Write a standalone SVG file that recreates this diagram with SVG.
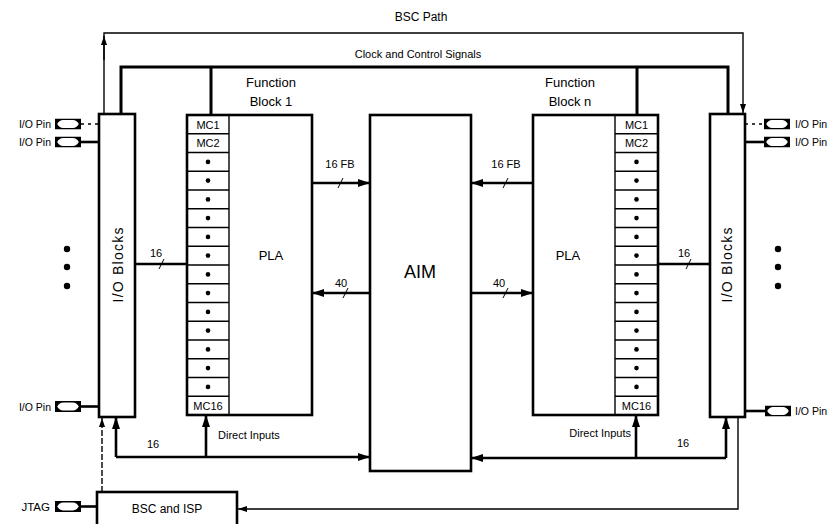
<svg xmlns="http://www.w3.org/2000/svg" width="833" height="524" viewBox="0 0 833 524">
<style>
text{font-family:"Liberation Sans",Arial,sans-serif;fill:#000}
.box{fill:#fff;stroke:#000;stroke-width:2.6}
.cell{fill:none;stroke:#000;stroke-width:1.4}
.thick{fill:none;stroke:#000;stroke-width:3}
.bus{fill:none;stroke:#000;stroke-width:2.6}
.thin{fill:none;stroke:#000;stroke-width:1.4}
.tick{fill:none;stroke:#000;stroke-width:1}
.lbl{font-size:11px}
.mc{font-size:11px;text-anchor:middle}
.pin{font-size:10.5px}
.mid{text-anchor:middle}
</style>
<defs>
<marker id="ah" markerUnits="userSpaceOnUse" markerWidth="12" markerHeight="8" refX="12" refY="4" orient="auto"><path d="M0,0 L12,4 L0,8 Z" fill="#000"/></marker>
<marker id="as" markerUnits="userSpaceOnUse" markerWidth="9" markerHeight="6" refX="9" refY="3" orient="auto"><path d="M0,0 L9,3 L0,6 Z" fill="#000"/></marker>
<symbol id="pinicon" viewBox="0 0 26 11"><rect x="0" y="0" width="26" height="11" fill="#000"/><path d="M2.2,5.5 Q4.5,1.6 8,1.6 L18,1.6 Q21.5,1.6 23.8,5.5 Q21.5,9.4 18,9.4 L8,9.4 Q4.5,9.4 2.2,5.5 Z" fill="#fff"/></symbol>
</defs>

<!-- labels top -->
<text x="421" y="21" class="mid" font-size="12">BSC Path</text>
<text x="418" y="58" class="mid lbl">Clock and Control Signals</text>

<g id="connectors">
  <!-- BSC path -->
  <path class="thin" d="M104,113 L104,33 L743,33 L743,113" marker-end="url(#as)"/>
  <path class="thin" d="M104,60 L104,36" marker-end="url(#as)"/>
  <path class="thin" d="M102,492 L102,418" stroke-dasharray="6,2" marker-end="url(#as)"/>
  <path class="thin" d="M738,417 L738,509 L238,509" marker-end="url(#as)"/>
  <!-- clock and control -->
  <path class="thick" d="M121,113 L121,67 L728,67 L728,113"/>
  <path class="thick" d="M211,67 L211,115"/>
  <path class="thick" d="M637,67 L637,115"/>
  <!-- FB to AIM -->
  <path class="bus" d="M312,183 L370,183" marker-end="url(#ah)"/>
  <path class="bus" d="M370,293 L312,293" marker-end="url(#ah)"/>
  <path class="bus" d="M533,183 L471,183" marker-end="url(#ah)"/>
  <path class="bus" d="M471,293 L533,293" marker-end="url(#ah)"/>
  <line class="tick" x1="338" y1="188" x2="343" y2="178"/>
  <line class="tick" x1="343" y1="298" x2="348" y2="288"/>
  <line class="tick" x1="503" y1="188" x2="508" y2="178"/>
  <line class="tick" x1="503" y1="298" x2="508" y2="288"/>
  <!-- IO block to MC -->
  <path class="bus" d="M136,264 L187,264"/>
  <path class="bus" d="M658,264 L709,264"/>
  <line class="tick" x1="159" y1="269" x2="164" y2="259"/>
  <line class="tick" x1="686" y1="269" x2="691" y2="259"/>
  <!-- bottom buses -->
  <path class="bus" d="M116,457 L370,457" marker-end="url(#ah)"/>
  <path class="bus" d="M116,457 L116,417" marker-end="url(#ah)"/>
  <path class="bus" d="M206,457 L206,415" marker-end="url(#ah)"/>
  <path class="bus" d="M726,458 L471,458" marker-end="url(#ah)"/>
  <path class="bus" d="M726,458 L726,417" marker-end="url(#ah)"/>
  <path class="bus" d="M636,458 L636,415" marker-end="url(#ah)"/>
  <!-- pin lines -->
  <line class="thin" x1="81" y1="124" x2="99" y2="124" stroke-dasharray="3,4"/>
  <line class="bus" x1="81" y1="142" x2="99" y2="142"/>
  <line class="bus" x1="81" y1="406.5" x2="99" y2="406.5"/>
  <line class="bus" x1="81" y1="506.5" x2="97" y2="506.5"/>
  <line class="thin" x1="745" y1="124" x2="764" y2="124" stroke-dasharray="3,4"/>
  <line class="bus" x1="745" y1="142" x2="764" y2="142"/>
  <line class="bus" x1="745" y1="411" x2="765" y2="411"/>
</g>

<text x="340" y="168" class="lbl mid">16 FB</text>
<text x="341" y="287" class="lbl mid">40</text>
<text x="506" y="168" class="lbl mid">16 FB</text>
<text x="499" y="287" class="lbl mid">40</text>
<text x="156" y="257" class="lbl mid">16</text>
<text x="684" y="257" class="lbl mid">16</text>
<text x="153" y="448" class="lbl mid">16</text>
<text x="683" y="447" class="lbl mid">16</text>
<text x="218" y="439" class="lbl">Direct Inputs</text>
<text x="631" y="437" class="lbl" text-anchor="end">Direct Inputs</text>

<g id="io-left">
  <rect class="box" x="99" y="114" width="36" height="303"/>
  <text transform="translate(123,265) rotate(-90)" class="mid" font-size="14" textLength="75">I/O Blocks</text>
</g>
<g id="io-right">
  <rect class="box" x="710" y="114" width="35" height="303"/>
  <text transform="translate(732,265) rotate(-90)" class="mid" font-size="14" textLength="75">I/O Blocks</text>
</g>

<g id="dots-left"><circle cx="67" cy="249" r="3.2"/><circle cx="67" cy="267" r="3.2"/><circle cx="67" cy="286" r="3.2"/></g>
<g id="dots-right"><circle cx="778" cy="249" r="3.2"/><circle cx="778" cy="267" r="3.2"/><circle cx="778" cy="286" r="3.2"/></g>

<g id="fb1">
  <text x="271" y="87" class="mid" font-size="13">Function</text>
  <text x="271" y="106" class="mid" font-size="13">Block 1</text>
  <rect class="box" x="187" y="115" width="125" height="300"/>
  <line class="cell" x1="229" y1="115" x2="229" y2="415" stroke-width="2"/>
  <g class="cell">
    <line x1="187" y1="133.75" x2="229" y2="133.75"/><line x1="187" y1="152.5" x2="229" y2="152.5"/>
    <line x1="187" y1="171.25" x2="229" y2="171.25"/><line x1="187" y1="190" x2="229" y2="190"/>
    <line x1="187" y1="208.75" x2="229" y2="208.75"/><line x1="187" y1="227.5" x2="229" y2="227.5"/>
    <line x1="187" y1="246.25" x2="229" y2="246.25"/><line x1="187" y1="265" x2="229" y2="265"/>
    <line x1="187" y1="283.75" x2="229" y2="283.75"/><line x1="187" y1="302.5" x2="229" y2="302.5"/>
    <line x1="187" y1="321.25" x2="229" y2="321.25"/><line x1="187" y1="340" x2="229" y2="340"/>
    <line x1="187" y1="358.75" x2="229" y2="358.75"/><line x1="187" y1="377.5" x2="229" y2="377.5"/>
    <line x1="187" y1="396.25" x2="229" y2="396.25"/>
  </g>
  <text x="208" y="128.5" class="mc">MC1</text>
  <text x="208" y="147.2" class="mc">MC2</text>
  <g>
    <circle cx="208" cy="161.9" r="2.3"/><circle cx="208" cy="180.6" r="2.3"/><circle cx="208" cy="199.4" r="2.3"/>
    <circle cx="208" cy="218.1" r="2.3"/><circle cx="208" cy="236.9" r="2.3"/><circle cx="208" cy="255.6" r="2.3"/>
    <circle cx="208" cy="274.4" r="2.3"/><circle cx="208" cy="293.1" r="2.3"/><circle cx="208" cy="311.9" r="2.3"/>
    <circle cx="208" cy="330.6" r="2.3"/><circle cx="208" cy="349.4" r="2.3"/><circle cx="208" cy="368.1" r="2.3"/>
    <circle cx="208" cy="386.9" r="2.3"/>
  </g>
  <text x="208" y="409.7" class="mc">MC16</text>
  <text x="271" y="260" class="mid" font-size="13">PLA</text>
</g>

<g id="aim">
  <rect class="box" x="370" y="115" width="101" height="356"/>
  <text x="420" y="278" class="mid" font-size="18">AIM</text>
</g>

<g id="fbn">
  <text x="570" y="87" class="mid" font-size="13">Function</text>
  <text x="570" y="106" class="mid" font-size="13">Block n</text>
  <rect class="box" x="533" y="115" width="125" height="300"/>
  <line class="cell" x1="615" y1="115" x2="615" y2="415" stroke-width="2"/>
  <g class="cell">
    <line x1="615" y1="133.75" x2="658" y2="133.75"/><line x1="615" y1="152.5" x2="658" y2="152.5"/>
    <line x1="615" y1="171.25" x2="658" y2="171.25"/><line x1="615" y1="190" x2="658" y2="190"/>
    <line x1="615" y1="208.75" x2="658" y2="208.75"/><line x1="615" y1="227.5" x2="658" y2="227.5"/>
    <line x1="615" y1="246.25" x2="658" y2="246.25"/><line x1="615" y1="265" x2="658" y2="265"/>
    <line x1="615" y1="283.75" x2="658" y2="283.75"/><line x1="615" y1="302.5" x2="658" y2="302.5"/>
    <line x1="615" y1="321.25" x2="658" y2="321.25"/><line x1="615" y1="340" x2="658" y2="340"/>
    <line x1="615" y1="358.75" x2="658" y2="358.75"/><line x1="615" y1="377.5" x2="658" y2="377.5"/>
    <line x1="615" y1="396.25" x2="658" y2="396.25"/>
  </g>
  <text x="636.5" y="128.5" class="mc">MC1</text>
  <text x="636.5" y="147.2" class="mc">MC2</text>
  <g>
    <circle cx="636.5" cy="161.9" r="2.3"/><circle cx="636.5" cy="180.6" r="2.3"/><circle cx="636.5" cy="199.4" r="2.3"/>
    <circle cx="636.5" cy="218.1" r="2.3"/><circle cx="636.5" cy="236.9" r="2.3"/><circle cx="636.5" cy="255.6" r="2.3"/>
    <circle cx="636.5" cy="274.4" r="2.3"/><circle cx="636.5" cy="293.1" r="2.3"/><circle cx="636.5" cy="311.9" r="2.3"/>
    <circle cx="636.5" cy="330.6" r="2.3"/><circle cx="636.5" cy="349.4" r="2.3"/><circle cx="636.5" cy="368.1" r="2.3"/>
    <circle cx="636.5" cy="386.9" r="2.3"/>
  </g>
  <text x="636.5" y="409.7" class="mc">MC16</text>
  <text x="568" y="260" class="mid" font-size="13">PLA</text>
</g>

<g id="bsc-isp">
  <rect class="box" x="97" y="492" width="140" height="40"/>
  <text x="167" y="513" class="mid" font-size="12">BSC and ISP</text>
</g>

<g id="pin-l1"><use href="#pinicon" x="55" y="118.5" width="26" height="11"/><text x="51" y="128" class="pin" text-anchor="end">I/O Pin</text></g>
<g id="pin-l2"><use href="#pinicon" x="55" y="136.5" width="26" height="11"/><text x="51" y="146" class="pin" text-anchor="end">I/O Pin</text></g>
<g id="pin-l3"><use href="#pinicon" x="55" y="401" width="26" height="11"/><text x="51" y="410.5" class="pin" text-anchor="end">I/O Pin</text></g>
<g id="pin-jtag"><use href="#pinicon" x="55" y="501" width="26" height="11"/><text x="50" y="511" font-size="11.5" text-anchor="end">JTAG</text></g>
<g id="pin-r1"><use href="#pinicon" x="764" y="118.5" width="26" height="11"/><text x="795" y="128" class="pin">I/O Pin</text></g>
<g id="pin-r2"><use href="#pinicon" x="764" y="136.5" width="26" height="11"/><text x="795" y="146" class="pin">I/O Pin</text></g>
<g id="pin-r3"><use href="#pinicon" x="765" y="405.5" width="26" height="11"/><text x="795" y="415" class="pin">I/O Pin</text></g>
</svg>
